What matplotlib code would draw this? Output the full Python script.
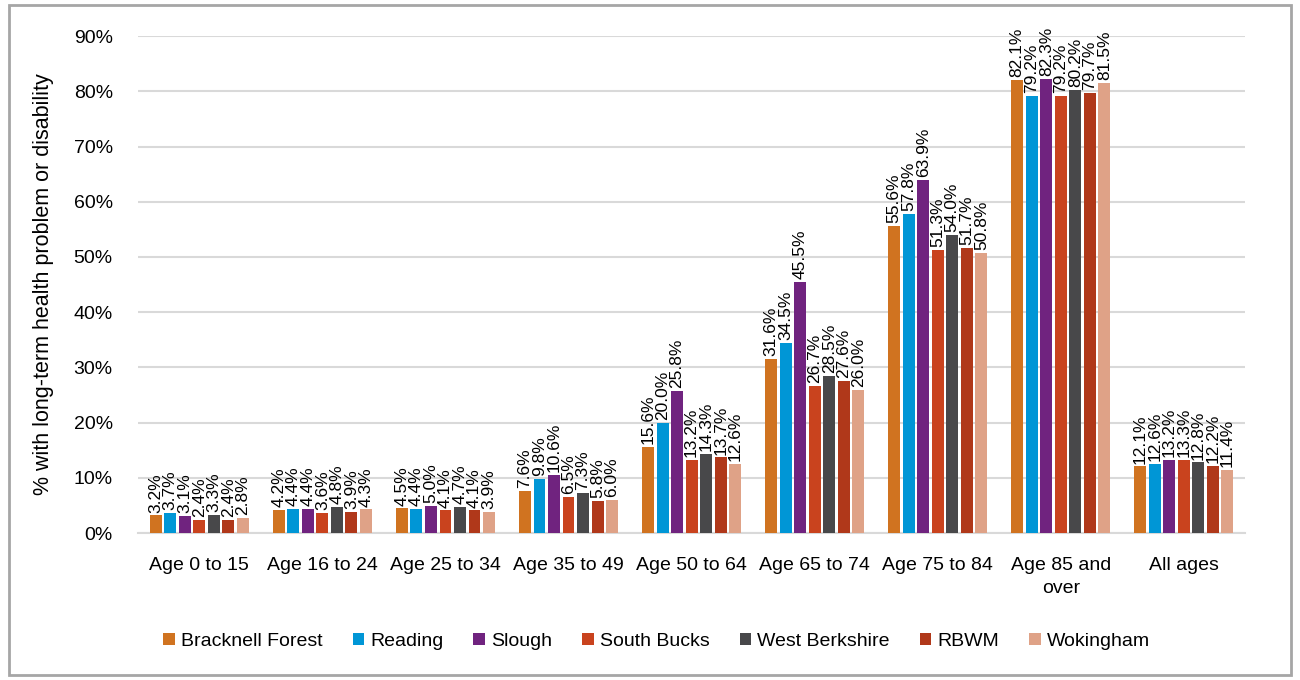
import matplotlib
matplotlib.use("Agg")
import matplotlib.pyplot as plt
import numpy as np
from matplotlib.patches import Rectangle

plt.rcParams['font.family'] = ['Liberation Sans', 'DejaVu Sans']

categories = ["Age 0 to 15", "Age 16 to 24", "Age 25 to 34", "Age 35 to 49",
              "Age 50 to 64", "Age 65 to 74", "Age 75 to 84", "Age 85 and\nover", "All ages"]
areas = ["Bracknell Forest", "Reading", "Slough", "South Bucks",
         "West Berkshire", "RBWM", "Wokingham"]
bracknell = [3.2, 4.2, 4.5, 7.6, 15.6, 31.6, 55.6, 82.1, 12.1]
reading = [3.7, 4.4, 4.4, 9.8, 20.0, 34.5, 57.8, 79.2, 12.6]
slough = [3.1, 4.4, 5.0, 10.6, 25.8, 45.5, 63.9, 82.3, 13.2]
south_bucks = [2.4, 3.6, 4.1, 6.5, 13.2, 26.7, 51.3, 79.2, 13.3]
west_berks = [3.3, 4.8, 4.7, 7.3, 14.3, 28.5, 54.0, 80.2, 12.8]
rbwm = [2.4, 3.9, 4.1, 5.8, 13.7, 27.6, 51.7, 79.7, 12.2]
wokingham = [2.8, 4.3, 3.9, 6.0, 12.6, 26.0, 50.8, 81.5, 11.4]
series = [bracknell, reading, slough, south_bucks, west_berks, rbwm, wokingham]
colors = ["#D07320", "#0096D6", "#70237F", "#C9431E", "#48484A", "#B0381A", "#DFA287"]
yticks = [0, 10, 20, 30, 40, 50, 60, 70, 80, 90]

fig = plt.figure(figsize=(13, 6.8), dpi=100)
ax = fig.add_axes([0.106, 0.216, 0.852, 0.731])

x = np.arange(len(categories))
n = len(series)
pitch = 0.118
for i, (vals, c, name) in enumerate(zip(series, colors, areas)):
    pos = x + (i - (n - 1) / 2) * pitch
    ax.bar(pos, vals, width=pitch * 0.82, color=c, label=name, zorder=3)
    for p, v in zip(pos, vals):
        ax.text(p, v + 0.5, f"{v:.1f}%", rotation=90, ha='center', va='bottom',
                fontsize=12.5, color='black', zorder=4)

ax.set_ylim(0, 90)
ax.set_xlim(-0.5, len(categories) - 0.5)
ax.set_yticks(yticks)
ax.set_yticklabels([f"{t}%" for t in yticks], fontsize=14)
ax.set_xticks(x)
ax.set_xticklabels(categories, fontsize=14, linespacing=1.45)
ax.tick_params(axis='x', length=0, pad=17)
ax.tick_params(axis='y', length=0, pad=18)
ax.grid(axis='y', color='#D9D9D9', linewidth=1.5, zorder=0)
for s in ['top', 'right', 'left']:
    ax.spines[s].set_visible(False)
ax.spines['bottom'].set_color('#D9D9D9')
ax.spines['bottom'].set_linewidth(1.5)
ax.set_ylabel("% with long-term health problem or disability", fontsize=15.5, labelpad=14)

handles, labels = ax.get_legend_handles_labels()
fig.legend(handles, labels, loc='center', bbox_to_anchor=(0.505, 0.057), ncol=7,
           frameon=False, fontsize=14, handlelength=0.6, handleheight=0.6,
           handletextpad=0.3, columnspacing=1.55)

fig.patches.append(Rectangle((0.007, 0.007), 0.986, 0.986, transform=fig.transFigure,
                             fill=False, edgecolor='#A6A6A6', linewidth=2))

fig.savefig("out.png", dpi=100, facecolor='white')
